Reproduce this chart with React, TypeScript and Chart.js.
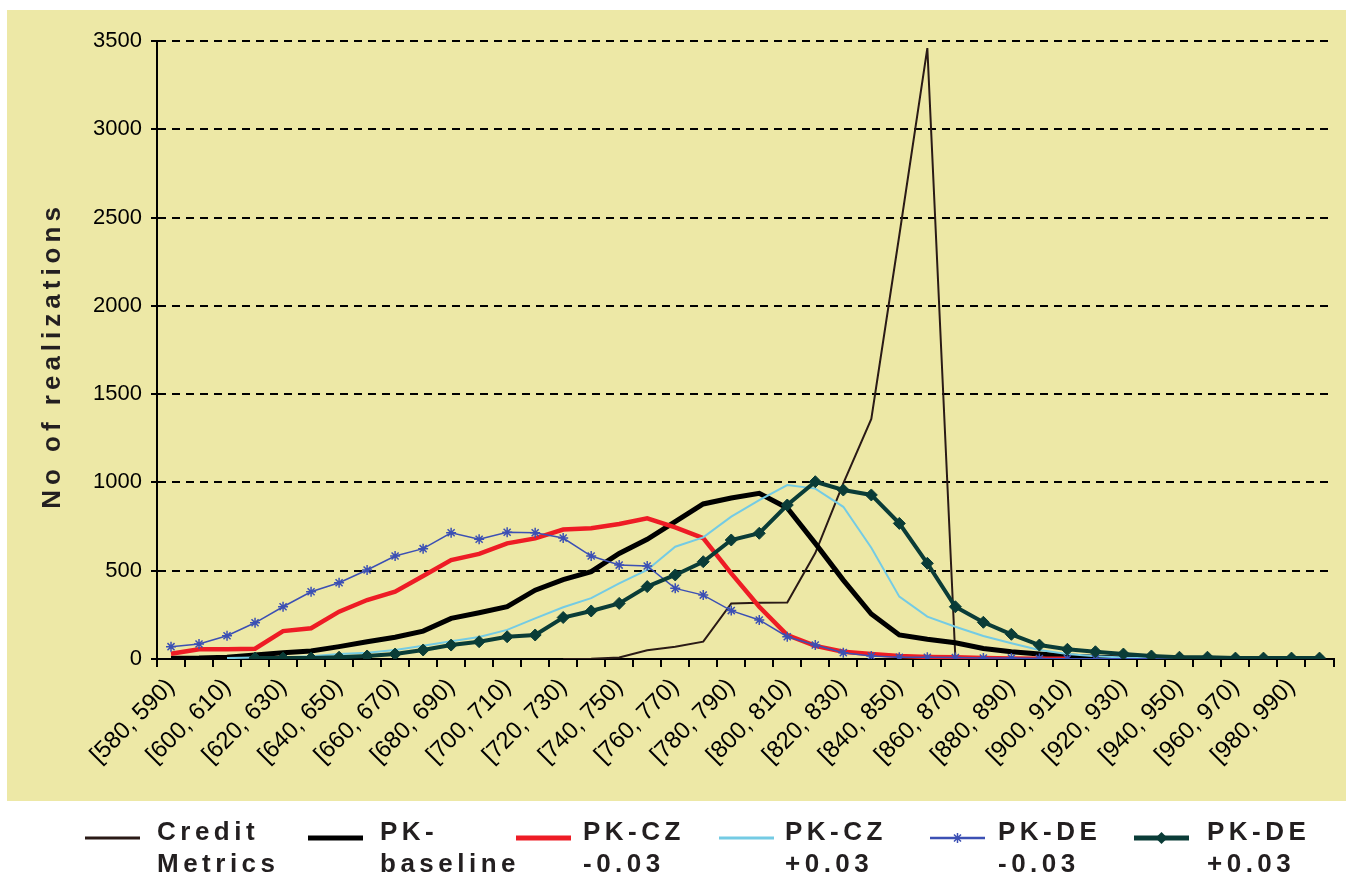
import React, { useEffect, useRef } from "react";
import { Chart, registerables } from "chart.js";

Chart.register(...registerables);

const categories = [
  "[580, 590)", "[590, 600)", "[600, 610)", "[610, 620)", "[620, 630)", "[630, 640)",
  "[640, 650)", "[650, 660)", "[660, 670)", "[670, 680)", "[680, 690)", "[690, 700)",
  "[700, 710)", "[710, 720)", "[720, 730)", "[730, 740)", "[740, 750)", "[750, 760)",
  "[760, 770)", "[770, 780)", "[780, 790)", "[790, 800)", "[800, 810)", "[810, 820)",
  "[820, 830)", "[830, 840)", "[840, 850)", "[850, 860)", "[860, 870)", "[870, 880)",
  "[880, 890)", "[890, 900)", "[900, 910)", "[910, 920)", "[920, 930)", "[930, 940)",
  "[940, 950)", "[950, 960)", "[960, 970)", "[970, 980)", "[980, 990)", "[990, 1000)",
];

const creditMetrics = [
  null, null, null, null, null, null, null, null, null, null, null, null, null, null,
  0, 2, 8, 50, 70, 98, 315, 318, 320, 600, 995, 1360, 2400, 3460, 10,
  0, 0, 0, 0, 0, 0, 0, 0, 0, 0, 0, 0, 0,
];

const pkBaseline = [
  4, 5, 10, 23, 36, 45, 70, 98, 123, 158,
  230, 262, 296, 390, 450, 495, 598, 678, 778, 878,
  912, 938, 855, 655, 447, 255, 136, 112, 92, 60,
  41, 28, 17, 10, 5, 3, 2, 1, 1, 0,
  0, 0,
];

const pkCzMinus = [
  30, 55, 55, 58, 158, 174, 268, 334, 381, 470,
  560, 595, 655, 683, 733, 740, 765, 797, 745, 685,
  485, 296, 136, 74, 41, 28, 17, 12, 10, 5,
  3, 2, 1, null, null, null, null, null, null, null,
  null, null,
];

const pkCzPlus = [
  null, null, 5, 8, 10, 15, 28, 36, 51, 75,
  100, 125, 165, 230, 293, 345, 428, 504, 636, 689,
  806, 900, 985, 965, 862, 630, 353, 240, 183, 130,
  89, 51, 28, 15, 8, 5, 3, 2, 1, 1,
  0, 0,
];

const pkDeMinus = [
  70, 85, 132, 205, 296, 381, 432, 504, 583, 625,
  715, 678, 718, 715, 685, 583, 532, 527, 400, 362,
  274, 221, 126, 79, 36, 17, 10, 10, 8, 5,
  5, 3, 2, 2, 1, 1, 1, 1, 0, 0,
  0, 0,
];

const pkDePlus = [
  null, null, null, 5, 5, 5, 10, 17, 28, 51,
  79, 98, 126, 136, 235, 272, 315, 410, 476, 551,
  674, 712, 872, 1004, 957, 929, 768, 542, 296, 208,
  140, 79, 55, 41, 28, 17, 10, 10, 5, 5,
  5, 5,
];

const seriesNames = [
  "Credit Metrics", "PK-baseline", "PK-CZ -0.03", "PK-CZ +0.03", "PK-DE -0.03", "PK-DE +0.03",
];
const legendLines = [
  ["Credit", "Metrics"],
  ["PK-", "baseline"],
  ["PK-CZ", "-0.03"],
  ["PK-CZ", "+0.03"],
  ["PK-DE", "-0.03"],
  ["PK-DE", "+0.03"],
];
const yTicks = [0, 500, 1000, 1500, 2000, 2500, 3000, 3500];
const yTitle = "No of realizations";

const FONT = '"Liberation Sans", Arial, Helvetica, sans-serif';
const BG = "rgb(237, 232, 166)";

const styles = [
  { color: "#2a1a16", width: 2, marker: "none" },
  { color: "#000000", width: 5, marker: "none" },
  { color: "#ee1c25", width: 4.5, marker: "none" },
  { color: "#74cbe4", width: 2, marker: "none" },
  { color: "#3c50b4", width: 1.5, marker: "star" },
  { color: "#0a3c37", width: 4, marker: "diamond" },
];

const legendSlots = [
  { lx: 85, tx: 157 },
  { lx: 308, tx: 380 },
  { lx: 516, tx: 583 },
  { lx: 719, tx: 785 },
  { lx: 930, tx: 998 },
  { lx: 1134, tx: 1207 },
];

const bgPlugin = {
  id: "bgPlugin",
  beforeDraw(chart: any) {
    const ctx = chart.ctx as CanvasRenderingContext2D;
    ctx.save();
    ctx.fillStyle = "#ffffff";
    ctx.fillRect(0, 0, chart.width, chart.height);
    ctx.fillStyle = BG;
    ctx.fillRect(7, 10, chart.width - 7, 791);
    ctx.restore();
  },
};

const overlayPlugin = {
  id: "overlayPlugin",
  afterDraw(chart: any) {
    const ctx = chart.ctx as CanvasRenderingContext2D;
    // Y axis title
    ctx.save();
    ctx.fillStyle = "#231f20";
    ctx.font = `bold 26px ${FONT}`;
    (ctx as any).letterSpacing = "5px";
    ctx.translate(53, 358);
    ctx.rotate(-Math.PI / 2);
    ctx.textAlign = "center";
    ctx.textBaseline = "middle";
    ctx.fillText(yTitle, 2.5, 0);
    ctx.restore();

    // Legend
    const ly = 838;
    for (let i = 0; i < legendLines.length; i++) {
      const st = styles[i];
      const slot = legendSlots[i];
      ctx.save();
      ctx.strokeStyle = st.color;
      ctx.lineWidth = i === 1 || i === 2 ? 5 : i === 5 ? 5 : st.width + 1;
      ctx.beginPath();
      ctx.moveTo(slot.lx, ly);
      ctx.lineTo(slot.lx + 55, ly);
      ctx.stroke();
      const cx = slot.lx + 27.5;
      if (st.marker === "star") {
        const r = 5;
        ctx.lineWidth = 1.5;
        ctx.beginPath();
        ctx.moveTo(cx - r * 0.7, ly - r * 0.7);
        ctx.lineTo(cx + r * 0.7, ly + r * 0.7);
        ctx.moveTo(cx + r * 0.7, ly - r * 0.7);
        ctx.lineTo(cx - r * 0.7, ly + r * 0.7);
        ctx.moveTo(cx, ly - r);
        ctx.lineTo(cx, ly + r);
        ctx.stroke();
      } else if (st.marker === "diamond") {
        const r = 6;
        ctx.fillStyle = st.color;
        ctx.beginPath();
        ctx.moveTo(cx, ly - r);
        ctx.lineTo(cx + r, ly);
        ctx.lineTo(cx, ly + r);
        ctx.lineTo(cx - r, ly);
        ctx.closePath();
        ctx.fill();
      }
      ctx.fillStyle = "#231f20";
      ctx.font = `bold 26px ${FONT}`;
      (ctx as any).letterSpacing = "4.5px";
      ctx.textAlign = "left";
      ctx.textBaseline = "alphabetic";
      ctx.fillText(legendLines[i][0], slot.tx, 840);
      ctx.fillText(legendLines[i][1], slot.tx, 872);
      ctx.restore();
    }
  },
};

export default function App() {
  const ref = useRef<HTMLCanvasElement>(null);

  useEffect(() => {
    if (!ref.current) return;
    const seriesData = [creditMetrics, pkBaseline, pkCzMinus, pkCzPlus, pkDeMinus, pkDePlus];
    const datasets = seriesData.map((d, i) => {
      const st = styles[i];
      const base: any = {
        label: seriesNames[i],
        data: d,
        borderColor: st.color,
        backgroundColor: st.color,
        borderWidth: st.width,
        tension: 0,
        fill: false,
        order: 6 - i,
        pointRadius: 0,
        pointHoverRadius: 0,
        spanGaps: false,
      };
      if (st.marker === "star") {
        base.pointStyle = "star";
        base.pointRadius = 5;
        base.pointBorderWidth = 1.5;
        base.pointBorderColor = st.color;
      } else if (st.marker === "diamond") {
        base.pointStyle = "rectRot";
        base.pointRadius = 6;
        base.pointBorderWidth = 1;
        base.pointBorderColor = st.color;
        base.pointBackgroundColor = st.color;
      }
      return base;
    });

    const chart = new Chart(ref.current, {
      type: "line",
      data: { labels: categories, datasets },
      options: {
        responsive: false,
        animation: false,
        layout: { padding: { left: 7, top: 41, right: 11, bottom: 74 } },
        plugins: {
          legend: { display: false },
          tooltip: { enabled: false },
          title: { display: false },
        },
        scales: {
          x: {
            type: "category",
            offset: true,
            grid: {
              display: true,
              offset: true,
              drawOnChartArea: false,
              drawTicks: true,
              tickLength: 8,
              tickColor: "#000",
              tickWidth: 2,
              color: "#000",
              lineWidth: 2,
            },
            border: { display: true, color: "#000", width: 2 },
            ticks: {
              autoSkip: false,
              maxRotation: 45,
              minRotation: 45,
              padding: 6,
              color: "#000",
              font: { family: FONT, size: 24 },
              callback: (_v: any, i: number) => (i % 2 === 0 ? categories[i] : ""),
            },
            afterFit: (s: any) => {
              s.height = 142;
            },
          },
          y: {
            min: yTicks[0],
            max: yTicks[yTicks.length - 1],
            ticks: {
              stepSize: 500,
              color: "#000",
              padding: 9,
              font: { family: FONT, size: 22 },
              callback: (v: any) => String(v),
            },
            grid: {
              color: "#000",
              lineWidth: 2,
              drawTicks: true,
              tickLength: 6,
              tickColor: "#000",
              tickWidth: 2,
              tickBorderDash: [],
            },
            border: { display: true, color: "#000", width: 2, dash: [8, 6] },
            afterFit: (s: any) => {
              s.width = 150;
            },
          },
        },
      } as any,
      plugins: [bgPlugin, overlayPlugin],
    });
    return () => chart.destroy();
  }, []);

  return (
    <div style={{ position: "absolute", left: 0, top: 0, width: 1346, height: 875, background: "#fff" }}>
      <canvas ref={ref} width={1346} height={875} style={{ display: "block" }} />
    </div>
  );
}
